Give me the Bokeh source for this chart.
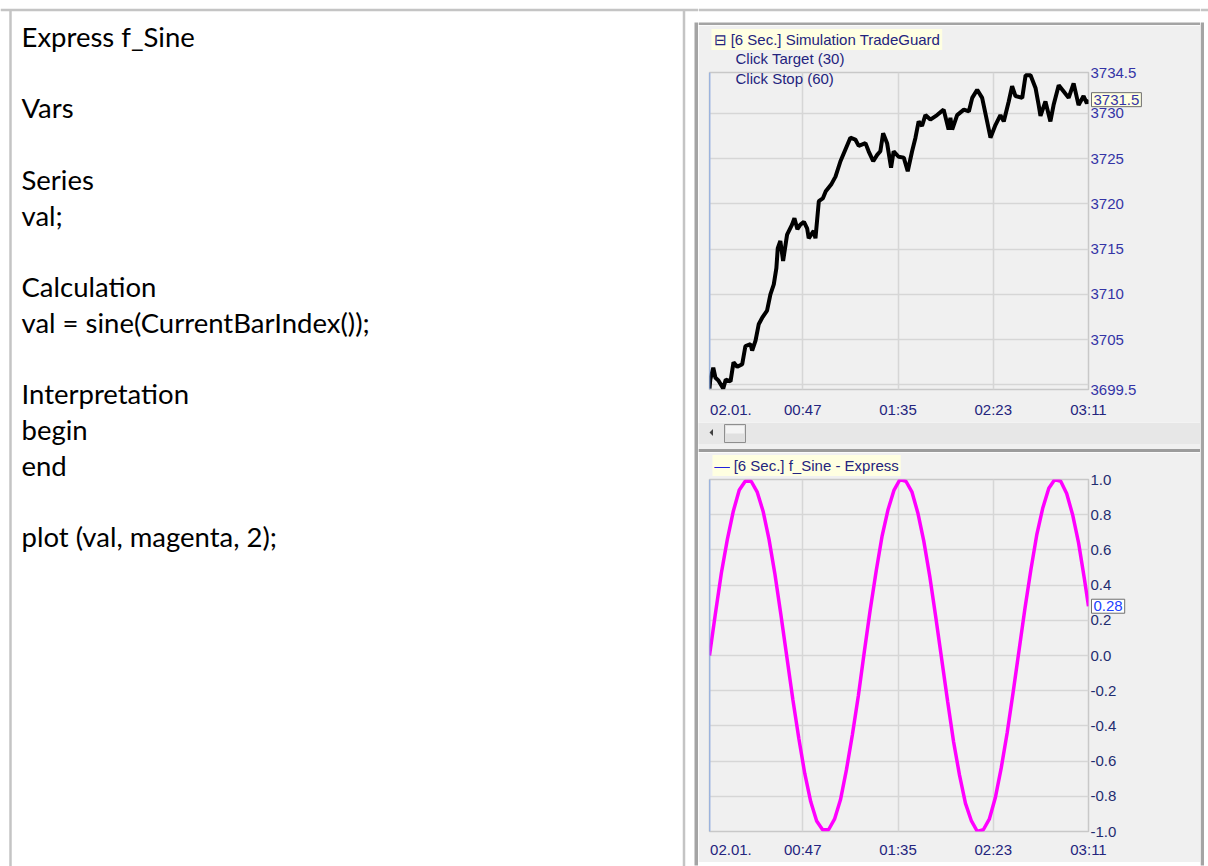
from bokeh.plotting import figure
from bokeh.layouts import row, column
from bokeh.models import Range1d, FixedTicker, Label, Span, NumeralTickFormatter
from bokeh.embed import file_html
from bokeh.resources import INLINE
from bokeh.core.properties import value

# ---------------- data ----------------
code_lines = ["Express f_Sine", "", "Vars", "", "Series", "val;", "", "Calculation",
              "val = sine(CurrentBarIndex());", "", "Interpretation", "begin", "end", "",
              "plot (val, magenta, 2);"]

# minutes since 02.01. 00:00 (6-second bars)
price_t = [0.0, 0.4, 1.9, 3.0, 4.5, 6.9, 8.2, 10.6, 12.1, 14.0, 16.5, 18.1, 20.7, 21.5, 23.2,
           24.8, 26.5, 29.0, 30.7, 32.4, 33.7, 34.4, 35.7, 37.1, 39.1, 41.6, 42.8, 44.3, 45.8,
           47.6, 49.2, 50.0, 52.5, 53.4, 55.1, 57.1, 58.6, 61.5, 63.5, 66.0, 68.5, 71.0, 73.5,
           75.2, 78.6, 80.2, 82.5, 84.5, 86.1, 87.5, 89.5, 91.5, 92.8, 95.3, 97.9, 99.9, 102.1,
           103.8, 105.4, 107.1, 108.8, 111.3, 114.7, 118.0, 120.5, 121.4, 122.3, 124.8, 128.2,
           130.7, 132.4, 134.9, 137.4, 139.9, 141.6, 144.1, 146.6, 148.3, 150.8, 152.5, 154.2,
           157.6, 159.3, 161.8, 164.3, 165.9, 166.8, 169.3, 171.8, 173.4, 176.0, 178.5, 181.0,
           183.5, 186.0, 188.5, 190.2, 191.0]
price_v = [3699.6, 3700.6, 3701.9, 3700.8, 3700.5, 3699.6, 3700.6, 3700.4, 3702.5, 3702.0,
           3702.3, 3704.3, 3704.5, 3703.8, 3704.9, 3706.7, 3707.4, 3708.2, 3710.0, 3711.1,
           3712.9, 3715.1, 3715.9, 3713.7, 3716.6, 3717.7, 3718.4, 3717.2, 3717.7, 3718.0,
           3717.3, 3716.2, 3717.0, 3716.2, 3720.3, 3720.6, 3721.4, 3722.2, 3723.0, 3724.7,
           3726.0, 3727.3, 3727.1, 3726.4, 3726.7, 3725.8, 3724.7, 3725.4, 3725.8, 3727.8,
           3726.7, 3724.0, 3725.8, 3725.2, 3725.1, 3723.6, 3725.8, 3727.3, 3729.1, 3728.6,
           3729.8, 3729.3, 3729.8, 3730.4, 3728.2, 3729.5, 3728.2, 3729.8, 3730.4, 3730.2,
           3731.7, 3732.6, 3731.7, 3729.1, 3727.3, 3728.7, 3729.8, 3729.1, 3731.3, 3733.0,
           3731.9, 3731.7, 3734.2, 3734.2, 3732.8, 3730.9, 3729.7, 3731.3, 3729.1, 3730.9,
           3733.1, 3732.4, 3731.7, 3733.3, 3730.9, 3731.9, 3731.1, 3731.5]

sine_t = [0, 3, 6, 9, 12, 15, 18, 21, 24, 27, 30, 33, 36, 39, 42, 45, 48, 51, 54, 57, 60, 63,
          66, 69, 72, 75, 78, 81, 84, 87, 90, 93, 96, 99, 102, 105, 108, 111, 114, 117, 120,
          123, 126, 129, 132, 135, 138, 141, 144, 147, 150, 153, 156, 159, 162, 165, 168, 171,
          174, 177, 180, 183, 186, 189, 191]
sine_v = [0.00, 0.24, 0.47, 0.66, 0.82, 0.94, 0.99, 0.99, 0.93, 0.82, 0.66, 0.46, 0.23,
          -0.01, -0.25, -0.47, -0.67, -0.83, -0.94, -0.99, -0.99, -0.93, -0.82, -0.65, -0.45, -0.23,
          0.02, 0.26, 0.48, 0.68, 0.83, 0.94, 1.00, 0.99, 0.93, 0.81, 0.65, 0.45, 0.22,
          -0.02, -0.26, -0.49, -0.68, -0.84, -0.94, -1.00, -0.99, -0.93, -0.81, -0.64, -0.44, -0.21,
          0.03, 0.27, 0.49, 0.69, 0.84, 0.95, 1.00, 0.99, 0.92, 0.80, 0.64, 0.43, 0.28]

time_ticks = [47, 95, 143, 191]
time_labels = ["00:47", "01:35", "02:23", "03:11"]
date_label = "02.01."
date_tick = 10.8
price_ticks = [3699.5, 3705, 3710, 3715, 3720, 3725, 3730, 3734.5]
price_tick_labels = ["3699.5", "3705", "3710", "3715", "3720", "3725", "3730", "3734.5"]
price_grid = [3700, 3705, 3710, 3715, 3720, 3725, 3730]
sine_ticks = [-1.0, -0.8, -0.6, -0.4, -0.2, 0.0, 0.2, 0.4, 0.6, 0.8, 1.0]
top_title = "\u229f [6 Sec.] Simulation TradeGuard"
top_notes = ["Click Target  (30)", "Click Stop  (60)"]
bottom_title = "\u2014 [6 Sec.] f_Sine - Express"

# ---------------- style ----------------
UI_FONT = "Liberation Sans"
NAVY = "#24247e"
PANE_BG = "#f0f0f0"
GRID = "#d6d6d6"
FRAME_DARK = "#a4a4a4"
TABLE = "#c4c4c4"

W_L, W_R, W_E, H = 698, 502, 8, 866


def no_align(p):
    if "frame_align" in p.properties():
        p.frame_align = False
    return p


def deco(w, h, x0, y0, bg="white"):
    p = figure(width=w, height=h, x_range=Range1d(x0, x0 + w), y_range=Range1d(y0 + h, y0),
               output_backend="svg", toolbar_location=None,
               x_axis_location=None, y_axis_location=None,
               min_border=0, min_border_left=0, min_border_right=0,
               min_border_top=0, min_border_bottom=0)
    p.grid.visible = False
    p.outline_line_color = None
    p.background_fill_color = bg
    p.border_fill_color = bg
    return no_align(p)


# ---------------- left cell (code text) ----------------
L = deco(W_L, H, 0, 0)
L.segment(x0=[0, 10, 683.5], y0=[9.5, 9, 9], x1=[698, 10, 683.5], y1=[9.5, 866, 866],
          line_color=TABLE, line_width=2.5)
L.quad(left=[694], right=[697.5], top=[22], bottom=[865], fill_color=FRAME_DARK, line_color=None)
L.quad(left=[697.5], right=[698], top=[25], bottom=[862], fill_color=PANE_BG, line_color=None)
L.quad(left=[697.5], right=[698], top=[862], bottom=[865], fill_color=FRAME_DARK, line_color=None)
idx = [i for i, s in enumerate(code_lines) if s]
L.text(x=[21] * len(idx), y=[36 + 35.71 * i for i in idx], text=[code_lines[i] for i in idx],
       text_font=value("Lato"), text_font_size="27.5px", text_color="black",
       text_baseline="alphabetic", text_align="left")

# ---------------- strip above the chart window ----------------
S = deco(W_R, 25, 698, 0)
S.segment(x0=[698], y0=[9.5], x1=[1200], y1=[9.5], line_color=TABLE, line_width=2.5)
S.quad(left=[698], right=[1200], top=[22], bottom=[25], fill_color=FRAME_DARK, line_color=None)

# right edge of chart window
R = deco(W_E, H, 1200, 0)
R.segment(x0=[1200], y0=[9.5], x1=[1208], y1=[9.5], line_color=TABLE, line_width=2.5)
R.quad(left=[1200], right=[1203.5], top=[22], bottom=[865], fill_color=FRAME_DARK, line_color=None)


def chart(h, top, bottom, yr, ylab_color, standoff):
    p = figure(width=W_R, height=h, x_range=Range1d(0, time_ticks[-1]), y_range=yr,
               y_axis_location="right", output_backend="svg", toolbar_location=None,
               min_border_left=11, min_border_right=112, min_border_top=top,
               min_border_bottom=bottom)
    no_align(p)
    p.background_fill_color = PANE_BG
    p.border_fill_color = PANE_BG
    p.outline_line_color = "#c8c8c8"
    p.outline_line_width = 1.5
    for ax in (p.xaxis[0], p.yaxis[0]):
        ax.axis_line_color = None
        ax.major_tick_line_color = None
        ax.minor_tick_line_color = None
        ax.major_tick_out = 0
        ax.major_tick_in = 0
        ax.minor_tick_out = 0
        ax.minor_tick_in = 0
        ax.major_label_text_font = UI_FONT
        ax.major_label_text_font_size = "15px"
    p.xaxis.ticker = FixedTicker(ticks=[date_tick] + time_ticks)
    p.xaxis.major_label_overrides = dict(zip([date_tick] + time_ticks, [date_label] + time_labels))
    p.xaxis.major_label_text_color = NAVY
    p.xaxis.major_label_standoff = standoff
    p.yaxis.major_label_text_color = ylab_color
    p.yaxis.major_label_standoff = 2
    p.xgrid.ticker = FixedTicker(ticks=time_ticks)
    p.xgrid.grid_line_color = GRID
    p.ygrid.grid_line_color = GRID
    p.xgrid.grid_line_width = 1.5
    p.ygrid.grid_line_width = 1.5
    p.add_layout(Span(location=0, dimension="height", line_color="#6f9df2", line_width=1.5))
    return p


def tag(p, x, y, text, bg, fg):
    p.add_layout(Label(x=x, y=y, x_offset=3, text=text, text_align="left",
                       text_baseline="middle", text_font=UI_FONT, text_font_size="15px",
                       text_color=fg, background_fill_color=bg, border_line_color="#6e6e6e",
                       padding=2), "right")


# ---------------- top pane: price ----------------
T = chart(397, 47, 33, Range1d(price_ticks[0], price_ticks[-1]), "#3434a6", 11)
T.yaxis.ticker = FixedTicker(ticks=price_ticks)
T.yaxis.major_label_overrides = dict(zip(price_ticks, price_tick_labels))
T.ygrid.ticker = FixedTicker(ticks=price_grid)
T.line(price_t, price_v, line_color="black", line_width=4)
T.add_layout(Label(x=0, y=price_ticks[-1], x_offset=26, y_offset=14, text=top_notes[0],
                   text_align="left", text_baseline="middle", text_font=UI_FONT,
                   text_font_size="15px", text_color=NAVY), "above")
T.add_layout(Label(x=0, y=price_ticks[-1], x_offset=2, y_offset=33, text=top_title,
                   text_align="left", text_baseline="middle", text_font=UI_FONT,
                   text_font_size="15px", text_color=NAVY, background_fill_color="#ffffe1",
                   padding=2), "above")
T.add_layout(Label(x=0, y=price_ticks[-1], x_offset=26, y_offset=-6, text=top_notes[1],
                   text_align="left", text_baseline="middle", text_font=UI_FONT,
                   text_font_size="15px", text_color=NAVY))
tag(T, time_ticks[-1], price_v[-1], f"{price_v[-1]:.1f}", "#ffffe1", "#3434a6")

# ---------------- scrollbar strip + pane separator ----------------
SB = deco(W_R, 30, 698, 422, PANE_BG)
SB.quad(left=[698], right=[1200], top=[422], bottom=[443.5], fill_color="#e7e7e7", line_color=None)
SB.quad(left=[698], right=[1200], top=[448.5], bottom=[451.5], fill_color="#9c9c9c", line_color=None)
SB.quad(left=[724], right=[745], top=[424], bottom=[442], fill_color="#e0e0e0",
        line_color="#8e8e8e", line_width=1)
SB.quad(left=[725.5], right=[743.5], top=[425.5], bottom=[433], fill_color="#f4f4f4", line_color=None)
SB.patch(x=[712.5, 712.5, 709], y=[428.5, 435.5, 432], fill_color="#404040", line_color=None)

# ---------------- bottom pane: sine ----------------
B = chart(410, 27, 31, Range1d(-1.0, 1.0), "#1f2d70", 9)
B.yaxis.ticker = FixedTicker(ticks=sine_ticks)
B.yaxis.formatter = NumeralTickFormatter(format="0.0")
B.ygrid.ticker = FixedTicker(ticks=sine_ticks)
B.line(sine_t, sine_v, line_color="#ff00ff", line_width=3.5)
B.add_layout(Label(x=0, y=1.0, x_offset=3, y_offset=14, text=bottom_title,
                   text_align="left", text_baseline="middle", text_font=UI_FONT,
                   text_font_size="15px", text_color=NAVY, background_fill_color="#ffffe1",
                   padding=2), "above")
B.add_layout(Label(x=0, y=1.0, x_offset=3, y_offset=14, text="\u2014",
                   text_align="left", text_baseline="middle", text_font=UI_FONT,
                   text_font_size="15px", text_color="#2222dd", padding=2), "right")
tag(B, time_ticks[-1], sine_v[-1], f"{sine_v[-1]:.2f}", "white", "#2040ff")

# ---------------- bottom edge of chart window ----------------
BS = deco(W_R, 4, 698, 862)
BS.quad(left=[698], right=[1200], top=[862], bottom=[865], fill_color=FRAME_DARK, line_color=None)

page = row(L, column(S, T, SB, B, BS), R)
open("out.html", "w").write(file_html(page, INLINE))
